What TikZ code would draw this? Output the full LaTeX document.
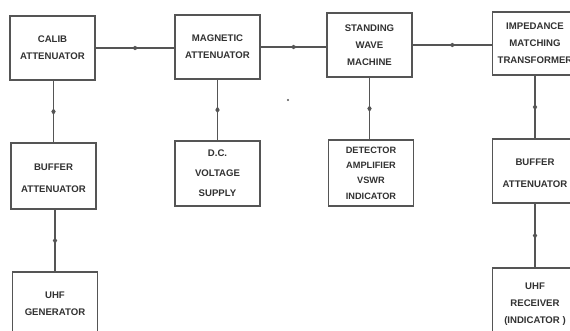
\documentclass[tikz,border=0pt]{standalone}
\usepackage{fontspec}
\setmainfont{Liberation Sans}
\usetikzlibrary{calc}
\definecolor{ink}{RGB}{85,85,85}
\definecolor{txt}{RGB}{50,50,50}
\tikzset{
  blk/.style={draw=ink, line width=1.4pt, rectangle, minimum width=85pt, minimum height=64pt,
    inner sep=0pt, align=center, text=txt, font=\bfseries\fontsize{9.6}{17}\selectfont},
  conn/.style={draw=ink, line width=1.1pt},
  marker/.style={fill=ink},
}
% horizontal link with a small mark at the middle
\newcommand{\linkh}[2]{%
  \draw[conn] (#1) -- (#2);
  \fill[marker] ($(#1)!0.5!(#2)$) ++(3.5,0) -- ++(-3.5,-2.2) -- ++(-3,2.2) -- ++(3,2.2) -- cycle;}
% vertical link, mark pointing down (#3=1) or up (#3=-1)
\newcommand{\linkv}[3]{%
  \draw[conn] (#1) -- (#2);
  \fill[marker] ($(#1)!0.5!(#2)$) ++(0,#3*3.5) -- ++(-2.2,-#3*3.5) -- ++(2.2,-#3*3) -- ++(2.2,#3*3) -- cycle;}
\begin{document}
\begin{tikzpicture}[x=1pt,y=-1pt]
\useasboundingbox[fill=white] (0,0) rectangle (570,331);
% top row
\node[blk] (calib) at (52.5,48) {CALIB\\ATTENUATOR};
\node[blk] (mag) at (217.5,47) {MAGNETIC\\ATTENUATOR};
\node[blk] (swm) at (369.5,45) {STANDING\\WAVE\\MACHINE};
\node[blk, minimum height=63pt] (imp) at (535,43.5) {IMPEDANCE\\MATCHING\\TRANSFORMER};
% second row
\node[blk, minimum height=66pt] (bufl) at (53.5,176) {\\[-6pt]BUFFER\\[5pt]ATTENUATOR};
\node[blk, minimum height=65pt] (dc) at (217.5,173.5) {D.C.\\[3pt]VOLTAGE\\[3pt]SUPPLY};
\node[blk, minimum height=66pt, font=\bfseries\fontsize{9.2}{15.3}\selectfont] (det) at (371,173) {DETECTOR\\AMPLIFIER\\VSWR\\INDICATOR};
\node[blk] (bufr) at (535,171) {\\[-6pt]BUFFER\\[5pt]ATTENUATOR};
% bottom row
\node[blk] (gen) at (55,304) {UHF\\GENERATOR};
\node[blk, minimum height=72pt] (rcv) at (535,304) {UHF\\RECEIVER\\(INDICATOR )};
% connector end points on the far boxes
\coordinate (cm) at (calib.east -| mag.west);
\coordinate (ms) at (mag.east -| swm.west);
\coordinate (si) at (swm.east -| imp.west);
\coordinate (bc) at (bufl.north |- calib.south);
\coordinate (gb) at (gen.north |- bufl.south);
\coordinate (dm) at (dc.north |- mag.south);
\coordinate (sd) at (swm.south |- det.north);
\coordinate (ib) at (imp.south |- bufr.north);
\coordinate (br) at (bufr.south |- rcv.north);
% connectors
\linkh{calib.east}{cm}
\linkh{mag.east}{ms}
\linkh{swm.east}{si}
\linkv{bufl.north}{bc}{1}
\linkv{gen.north}{gb}{1}
\linkv{dc.north}{dm}{-1}
\linkv{swm.south}{sd}{1}
\linkv{imp.south}{ib}{1}
\linkv{bufr.south}{br}{1}
% stray speck
\fill[ink] (288,100) circle (1.2pt);
\end{tikzpicture}
\end{document}
